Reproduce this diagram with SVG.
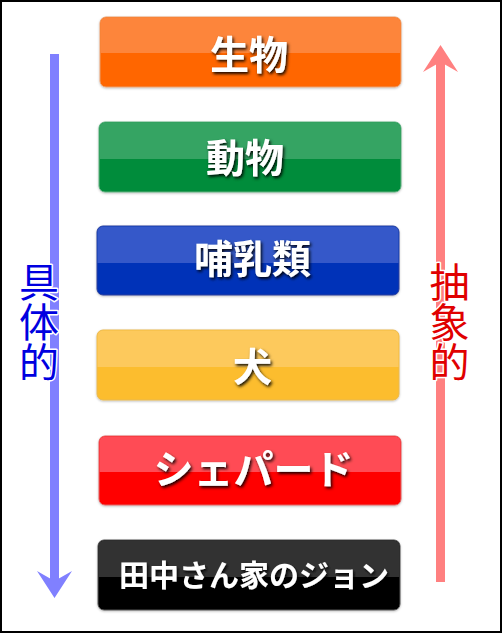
<svg xmlns="http://www.w3.org/2000/svg" width="502" height="633" viewBox="0 0 502 633">
<defs>
<filter id="ts" x="-20%" y="-30%" width="140%" height="160%">
<feDropShadow dx="1.5" dy="2" stdDeviation="1.8" flood-color="#000" flood-opacity="0.9"/>
</filter>
<filter id="bs" x="-5%" y="-10%" width="110%" height="130%">
<feDropShadow dx="0" dy="1" stdDeviation="1" flood-color="#000" flood-opacity="0.25"/>
</filter>
</defs>
<style>
.lbl{font-family:"Noto Sans CJK JP","Noto Sans",sans-serif;font-weight:bold;fill:#fff;text-anchor:middle;dominant-baseline:central;filter:url(#ts)}
.side{font-family:"Noto Sans CJK JP",sans-serif;font-size:40px;writing-mode:vertical-rl;text-anchor:start;stroke:#fff;stroke-width:3;paint-order:stroke;stroke-linejoin:round}
</style>
<rect x="0" y="0" width="502" height="633" fill="#fff"/>
<rect x="1" y="1" width="500" height="631" fill="none" stroke="#000" stroke-width="2"/>

<g id="connectors">
<rect x="50" y="54" width="9" height="528" fill="#8080ff"/>
<polygon points="54.5,598 37,571 54.5,581 72,571" fill="#8080ff"/>
<rect x="436" y="60" width="9" height="522" fill="#ff8080"/>
<polygon points="440.5,45 423,72 440.5,62 458,72" fill="#ff8080"/>
</g>

<g id="label-concrete">
<text class="side" fill="#0000e0" x="39" y="262">具体的</text>
</g>
<g id="label-abstract">
<text class="side" fill="#e00000" x="449.5" y="262">抽象的</text>
</g>

<g id="node-seibutsu" filter="url(#bs)">
<rect x="100" y="17" width="301" height="70" rx="6" fill="#ff6600" stroke="#e8a070" stroke-width="1"/>
<path d="M106,17.5 H395 a5.5,5.5 0 0 1 5.5,5.5 V53 H100.5 V23 a5.5,5.5 0 0 1 5.5,-5.5 Z" fill="#fd853a"/>
<text class="lbl" x="249" y="52" font-size="39">生物</text>
</g>

<g id="node-doubutsu" filter="url(#bs)">
<rect x="99" y="122" width="302" height="70" rx="6" fill="#008c3a" stroke="#60b080" stroke-width="1"/>
<path d="M105,122.5 H395 a5.5,5.5 0 0 1 5.5,5.5 V159 H99.5 V128 a5.5,5.5 0 0 1 5.5,-5.5 Z" fill="#34a463"/>
<text class="lbl" x="245" y="155" font-size="39">動物</text>
</g>

<g id="node-honyurui" filter="url(#bs)">
<rect x="97" y="226" width="302" height="69" rx="6" fill="#0032b8" stroke="#2a3f9a" stroke-width="1"/>
<path d="M103,226.5 H393 a5.5,5.5 0 0 1 5.5,5.5 V263 H97.5 V232 a5.5,5.5 0 0 1 5.5,-5.5 Z" fill="#3459c9"/>
<text class="lbl" x="252.5" y="256" font-size="39">哺乳類</text>
</g>

<g id="node-inu" filter="url(#bs)">
<rect x="97" y="330" width="302" height="70" rx="6" fill="#fcbd2e" stroke="#e8b850" stroke-width="1"/>
<path d="M103,330.5 H393 a5.5,5.5 0 0 1 5.5,5.5 V367 H97.5 V336 a5.5,5.5 0 0 1 5.5,-5.5 Z" fill="#fdc95c"/>
<text class="lbl" x="252.5" y="364" font-size="39">犬</text>
</g>

<g id="node-shepherd" filter="url(#bs)">
<rect x="99" y="436" width="302" height="69" rx="6" fill="#ff0000" stroke="#e06060" stroke-width="1"/>
<path d="M105,436.5 H395 a5.5,5.5 0 0 1 5.5,5.5 V472 H99.5 V442 a5.5,5.5 0 0 1 5.5,-5.5 Z" fill="#ff4c54"/>
<text class="lbl" x="253.5" y="467" font-size="40">シェパード</text>
</g>

<g id="node-john" filter="url(#bs)">
<rect x="98" y="540" width="302" height="70" rx="6" fill="#000" stroke="#555" stroke-width="1"/>
<path d="M104,540.5 H394 a5.5,5.5 0 0 1 5.5,5.5 V577 H98.5 V546 a5.5,5.5 0 0 1 5.5,-5.5 Z" fill="#333"/>
<text class="lbl" x="254" y="573" font-size="30">田中さん家のジョン</text>
</g>
</svg>
